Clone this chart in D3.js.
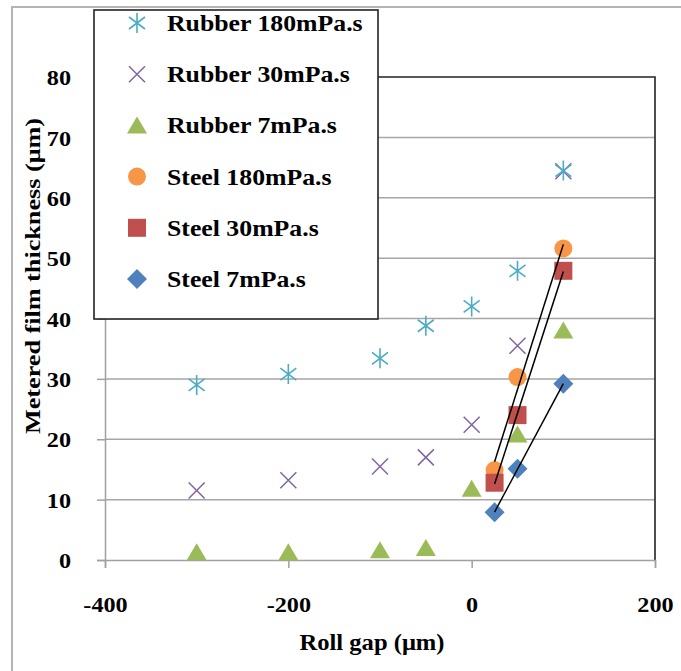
<!DOCTYPE html>
<html>
<head>
<meta charset="utf-8">
<script src="https://cdn.jsdelivr.net/npm/d3@7/dist/d3.min.js"></script>
<style>
  html, body { margin: 0; padding: 0; background: #fff; }
  svg { display: block; }
  text { font-family: "Liberation Serif", "Times New Roman", serif; font-weight: bold; fill: #000; }
</style>
</head>
<body>
<svg id="chart" width="681" height="671"></svg>
<script>
// Roll gap positions (µm)
const rubberGap = [-300, -200, -100, -50, 0, 50, 100];
const steelGap = [25, 50, 100];

// Metered film thickness (µm)
const rubber180 = [29.0, 30.8, 33.4, 38.8, 42.0, 47.9, 64.5];
const rubber30  = [11.5, 13.2, 15.5, 17.0, 22.4, 35.5, 64.4];
const rubber7   = [1.3, 1.3, 1.6, 2.0, 11.8, 20.8, 38.0];
const steel180  = [14.9, 30.3, 51.6];
const steel30   = [12.8, 24.0, 47.9];
const steel7    = [7.9, 15.1, 29.2];

const xTicks = [-400, -200, 0, 200];
const yTicks = [0, 10, 20, 30, 40, 50, 60, 70, 80];

const legendLabels = ["Rubber 180mPa.s", "Rubber 30mPa.s", "Rubber 7mPa.s",
                      "Steel 180mPa.s", "Steel 30mPa.s", "Steel 7mPa.s"];

const colors = {
  r180: "#4BACC6", r30: "#8064A2", r7: "#9BBB59",
  s180: "#F79646", s30: "#C0504D", s7: "#4F81BD"
};

const svg = d3.select("#chart");

const x = d3.scaleLinear().domain([-400, 200]).range([105, 655]);
const y = d3.scaleLinear().domain([0, 80]).range([560, 77]);

// widen serif text slightly so it reads like the wide Times bold face
function stretch(sel, k) {
  sel.each(function () {
    const w = this.getComputedTextLength();
    d3.select(this).attr("textLength", w * k).attr("lengthAdjust", "spacingAndGlyphs");
  });
}

// outer chart frame
svg.append("rect")
  .attr("x", 12).attr("y", 7).attr("width", 700).attr("height", 700)
  .attr("fill", "none").attr("stroke", "#b4b4b4").attr("stroke-width", 2);

// horizontal gridlines
svg.append("g").selectAll("line")
  .data(yTicks.filter(d => d > 0 && d < 80))
  .join("line")
  .attr("x1", x(-400)).attr("x2", x(200))
  .attr("y1", d => y(d)).attr("y2", d => y(d))
  .attr("stroke", "#a6a6a6").attr("stroke-width", 1.5);

// top and right plot border
svg.append("path")
  .attr("d", `M${x(-400)},${y(80)}H${x(200)}V${y(0)}`)
  .attr("fill", "none").attr("stroke", "#222").attr("stroke-width", 1.6);

// axes
const fmt = d => String(d);
const xAxis = d3.axisBottom(x).tickValues(xTicks).tickSize(8).tickPadding(28).tickFormat(fmt);
const gx = svg.append("g").attr("transform", `translate(0,${y(0)})`).call(xAxis);
const yAxis = d3.axisLeft(y).tickValues(yTicks).tickSize(8).tickPadding(26).tickFormat(fmt);
const gy = svg.append("g").attr("transform", `translate(${x(-400)},0)`).call(yAxis);

[gx, gy].forEach(g => {
  g.select(".domain").attr("stroke", "#a0a0a0").attr("stroke-width", 1.5);
  g.selectAll(".tick line").attr("stroke", "#a0a0a0").attr("stroke-width", 1.5);
  g.selectAll(".tick text")
    .attr("font-family", "Liberation Serif, serif")
    .attr("font-weight", "bold")
    .attr("font-size", 22)
    .attr("fill", "#000");
  stretch(g.selectAll(".tick text"), 1.1);
});
gy.selectAll(".tick text").attr("dy", "0.35em");

// axis titles
svg.append("text")
  .attr("x", 372).attr("y", 650)
  .attr("text-anchor", "middle")
  .attr("font-size", 24)
  .attr("textLength", 145).attr("lengthAdjust", "spacingAndGlyphs")
  .text("Roll gap (μm)");

svg.append("text")
  .attr("transform", "translate(40,276) rotate(-90)")
  .attr("text-anchor", "middle")
  .attr("font-size", 22)
  .attr("textLength", 316).attr("lengthAdjust", "spacingAndGlyphs")
  .text("Metered film thickness (μm)");

// marker drawing helpers
function drawMarker(g, kind, color) {
  switch (kind) {
    case "star":
      g.append("path")
        .attr("d", "M0,-10V10M-8,-6L8,6M-8,6L8,-6")
        .attr("stroke", color).attr("stroke-width", 1.6).attr("fill", "none");
      break;
    case "cross":
      g.append("path")
        .attr("d", "M-8,-8L8,8M-8,8L8,-8")
        .attr("stroke", color).attr("stroke-width", 1.5).attr("fill", "none");
      break;
    case "triangle":
      g.append("path")
        .attr("d", "M0,-9L10,8H-10Z").attr("fill", color);
      break;
    case "circle":
      g.append("circle").attr("r", 9).attr("fill", color);
      break;
    case "square":
      g.append("rect").attr("x", -9).attr("y", -9).attr("width", 18).attr("height", 18).attr("fill", color);
      break;
    case "diamond":
      g.append("path").attr("d", "M0,-10L10,0L0,10L-10,0Z").attr("fill", color);
      break;
  }
}

// series in drawing order
const series = [
  { xs: steelGap, ys: steel180, kind: "circle", color: colors.s180 },
  { xs: steelGap, ys: steel30, kind: "square", color: colors.s30 },
  { xs: steelGap, ys: steel7, kind: "diamond", color: colors.s7 },
  { xs: rubberGap, ys: rubber7, kind: "triangle", color: colors.r7 },
  { xs: rubberGap, ys: rubber30, kind: "cross", color: colors.r30 },
  { xs: rubberGap, ys: rubber180, kind: "star", color: colors.r180 }
];

series.forEach(s => {
  const g = svg.append("g");
  s.xs.forEach((xv, i) => {
    const m = g.append("g").attr("transform", `translate(${x(xv)},${y(s.ys[i])})`);
    drawMarker(m, s.kind, s.color);
  });
});

// linear trendlines for the steel roll series
function fit(xs, ys) {
  const mx = d3.mean(xs), my = d3.mean(ys);
  const sxy = d3.sum(xs, (v, i) => (v - mx) * (ys[i] - my));
  const sxx = d3.sum(xs, v => (v - mx) * (v - mx));
  const b = sxy / sxx;
  return { b, a: my - b * mx };
}
[steel180, steel30, steel7].forEach(ys => {
  const f = fit(steelGap, ys);
  const x0 = d3.min(steelGap), x1 = d3.max(steelGap);
  svg.append("line")
    .attr("x1", x(x0)).attr("y1", y(f.a + f.b * x0))
    .attr("x2", x(x1)).attr("y2", y(f.a + f.b * x1))
    .attr("stroke", "#000").attr("stroke-width", 1.5);
});

// legend
const legend = svg.append("g");
legend.append("rect")
  .attr("x", 94).attr("y", 10).attr("width", 284).attr("height", 309)
  .attr("fill", "#fff").attr("stroke", "#222").attr("stroke-width", 1.6);

const legendKinds = ["star", "cross", "triangle", "circle", "square", "diamond"];
const legendColors = [colors.r180, colors.r30, colors.r7, colors.s180, colors.s30, colors.s7];
const rowY = d3.scaleLinear().domain([0, 5]).range([23, 279]);

legendLabels.forEach((label, i) => {
  const m = legend.append("g").attr("transform", `translate(137,${rowY(i)})`);
  drawMarker(m, legendKinds[i], legendColors[i]);
  const t = legend.append("text")
    .attr("x", 167).attr("y", rowY(i) + 8)
    .attr("font-size", 23)
    .text(label);
  stretch(t, 1.12);
});
</script>
</body>
</html>
